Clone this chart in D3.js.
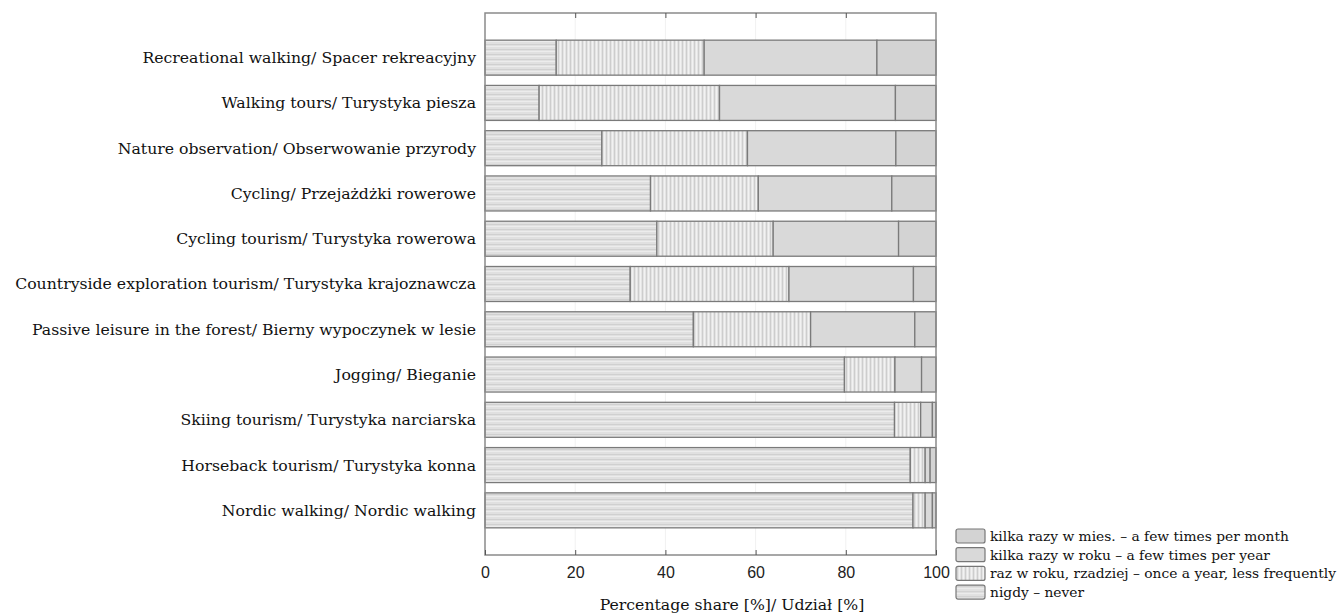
<!DOCTYPE html>
<html>
<head>
<meta charset="utf-8">
<script src="https://cdnjs.cloudflare.com/ajax/libs/d3/7.8.5/d3.min.js"></script>
<style>
  body { margin: 0; background: #fff; }
  .cat { font-family: "DejaVu Serif", serif; font-size: 15.7px; fill: #111; }
  .tick text { font-family: "Liberation Sans", Arial, sans-serif; font-size: 16px; fill: #222; }
  .leg { font-family: "DejaVu Serif", serif; font-size: 13.8px; fill: #111; }
</style>
</head>
<body>
<div id="main"></div>
<script>
// categories top to bottom
var activities = [
  "Recreational walking/ Spacer rekreacyjny",
  "Walking tours/ Turystyka piesza",
  "Nature observation/ Obserwowanie przyrody",
  "Cycling/ Przejażdżki rowerowe",
  "Cycling tourism/ Turystyka rowerowa",
  "Countryside exploration tourism/ Turystyka krajoznawcza",
  "Passive leisure in the forest/ Bierny wypoczynek w lesie",
  "Jogging/ Bieganie",
  "Skiing tourism/ Turystyka narciarska",
  "Horseback tourism/ Turystyka konna",
  "Nordic walking/ Nordic walking"
];
// shares in %
var never     = [15.8, 12.0, 25.9, 36.7, 38.1, 32.2, 46.2, 79.7, 90.8, 94.3, 94.9];
var onceYear  = [32.8, 40.0, 32.3, 23.9, 25.8, 35.2, 26.0, 11.2,  5.8,  3.3,  2.7];
var fewYear   = [38.3, 39.0, 32.9, 29.6, 27.8, 27.6, 23.1,  5.9,  2.6,  1.1,  1.6];
var fewMonth  = [13.1,  9.0,  8.9,  9.8,  8.3,  5.0,  4.7,  3.2,  0.8,  1.3,  0.8];
var seriesKeys = ["never", "once", "year", "month"];
var legendLabels = [
  "kilka razy w mies. \u2013 a few times per month",
  "kilka razy w roku \u2013 a few times per year",
  "raz w roku, rzadziej \u2013 once a year, less frequently",
  "nigdy \u2013 never"
];
var legendKeys = ["month", "year", "once", "never"];
var xTicks = [0, 20, 40, 60, 80, 100];

var W = 1341, H = 614;
var margin = {top: 13, left: 485, right: 405, bottom: 59};
var width = W - margin.left - margin.right,
    height = H - margin.top - margin.bottom;

var svg = d3.select("#main").append("svg")
    .attr("width", W).attr("height", H);

// fill patterns
var defs = svg.append("defs");
var pNever = defs.append("pattern").attr("id", "p-never")
    .attr("patternUnits", "userSpaceOnUse").attr("width", 6).attr("height", 5);
pNever.append("rect").attr("width", 6).attr("height", 5).attr("fill", "#e0e0e0");
pNever.append("rect").attr("y", 1).attr("width", 6).attr("height", 1).attr("fill", "#d0d0d0");
pNever.append("rect").attr("y", 3).attr("width", 6).attr("height", 1).attr("fill", "#ececec");

var pOnce = defs.append("pattern").attr("id", "p-once")
    .attr("patternUnits", "userSpaceOnUse").attr("width", 4).attr("height", 6);
pOnce.append("rect").attr("width", 4).attr("height", 6).attr("fill", "#e4e4e4");
pOnce.append("rect").attr("x", 1).attr("width", 1).attr("height", 6).attr("fill", "#cdcdcd");
pOnce.append("rect").attr("x", 3).attr("width", 1).attr("height", 6).attr("fill", "#f2f2f2");

var fills = {
  never: "url(#p-never)",
  once: "url(#p-once)",
  year: "#d9d9d9",
  month: "#d3d3d3"
};

var g = svg.append("g")
    .attr("transform", "translate(" + margin.left + "," + margin.top + ")");

var x = d3.scaleLinear().domain([0, 100]).range([0, width]);
var y = d3.scaleBand().domain(activities).range([0, height])
    .paddingInner(0.227).paddingOuter(0.6);

// faint gridlines
g.append("g").selectAll("line").data(xTicks.slice(1, -1)).enter().append("line")
    .attr("x1", function(d) { return x(d); }).attr("x2", function(d) { return x(d); })
    .attr("y1", 0).attr("y2", height)
    .attr("stroke", "#f1f1f1");

// stacked data
var rows = activities.map(function(a, i) {
  return {name: a, never: never[i], once: onceYear[i], year: fewYear[i], month: fewMonth[i]};
});
var stacked = d3.stack().keys(seriesKeys)(rows);

g.append("g").selectAll("g").data(stacked).enter().append("g")
  .selectAll("rect").data(function(d) { return d.map(function(v) { v.key = d.key; return v; }); })
  .enter().append("rect")
    .attr("x", function(d) { return x(d[0]); })
    .attr("y", function(d) { return y(d.data.name); })
    .attr("width", function(d) { return x(d[1]) - x(d[0]); })
    .attr("height", y.bandwidth())
    .attr("fill", function(d) { return fills[d.key]; })
    .attr("stroke", "#7a7a7a")
    .attr("stroke-width", 1.3);

// frame
g.append("rect").attr("width", width).attr("height", height)
    .attr("fill", "none").attr("stroke", "#8a8a8a").attr("stroke-width", 1.5);

// axes
var xAxis = g.append("g")
    .attr("transform", "translate(0," + height + ")")
    .call(d3.axisBottom(x).tickValues(xTicks).tickSizeInner(-5).tickSizeOuter(0).tickPadding(12));
xAxis.select(".domain").remove();
xAxis.selectAll("line").attr("stroke", "#555");

var xTop = g.append("g")
    .call(d3.axisTop(x).tickValues(xTicks.slice(1, -1)).tickSizeInner(-5).tickSizeOuter(0));
xTop.select(".domain").remove();
xTop.selectAll("text").remove();
xTop.selectAll("line").attr("stroke", "#555");

// category labels
g.append("g").selectAll("text").data(activities).enter().append("text")
    .attr("class", "cat")
    .attr("x", -9)
    .attr("y", function(d) { return y(d) + y.bandwidth() / 2; })
    .attr("dy", "0.35em")
    .attr("text-anchor", "end")
    .text(function(d) { return d; });

// axis title
svg.append("text")
    .attr("class", "cat")
    .attr("x", 732)
    .attr("y", 610)
    .attr("text-anchor", "middle")
    .text("Percentage share [%]/ Udział [%]");

// legend
var leg = svg.append("g").attr("transform", "translate(956,529)");
legendKeys.forEach(function(k, i) {
  var row = leg.append("g").attr("transform", "translate(0," + (i * 18.7) + ")");
  row.append("rect").attr("width", 29).attr("height", 14).attr("rx", 2)
      .attr("fill", fills[k]).attr("stroke", "#777").attr("stroke-width", 1.2);
  row.append("text").attr("class", "leg")
      .attr("x", 34).attr("y", 7).attr("dy", "0.35em")
      .text(legendLabels[i]);
});
</script>
</body>
</html>
